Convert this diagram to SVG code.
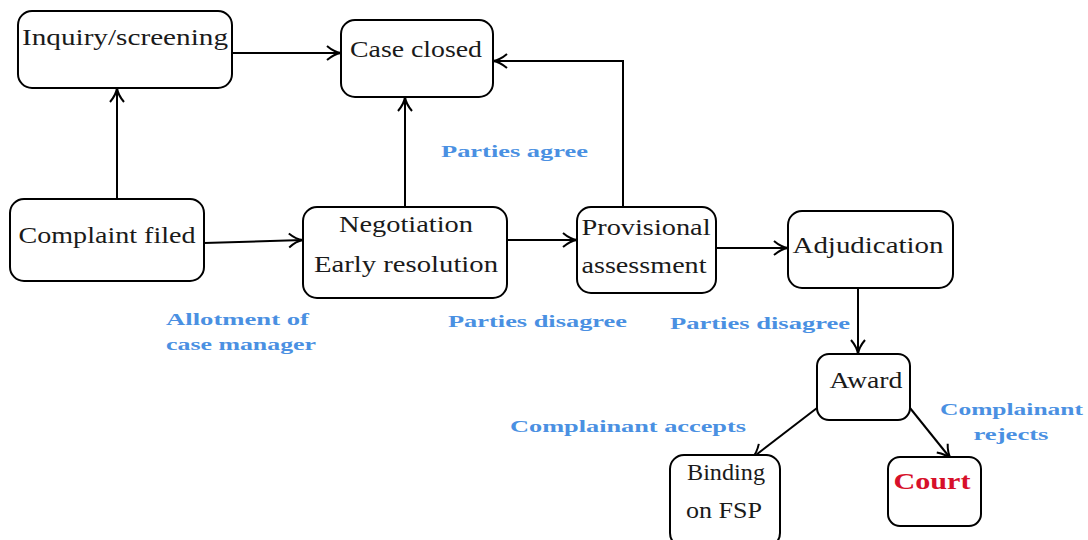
<svg xmlns="http://www.w3.org/2000/svg" width="1088" height="540" viewBox="0 0 1088 540">
<style>
.box{fill:#fff;stroke:#000;stroke-width:2}
text{font-family:"Liberation Serif","Times New Roman","Noto Serif","DejaVu Serif",serif}
.t{font-size:23px;fill:#1a1a1a}
.lbl{font-weight:bold;font-size:16px;fill:#4a90e2}
.c{fill:none;stroke:#000;stroke-width:2}
</style>
<defs>
<marker id="ah" markerUnits="userSpaceOnUse" markerWidth="20" markerHeight="20" refX="16" refY="10" orient="auto" viewBox="0 0 20 20">
<path d="M2,3 Q9,9 16,10 Q9,11 2,17" fill="none" stroke="#000" stroke-width="2"/>
</marker>
</defs>
<g id="connectors">
<path class="c" marker-end="url(#ah)" d="M232,53 L341,53"/>
<path class="c" marker-end="url(#ah)" d="M117,199 L117,88"/>
<path class="c" marker-end="url(#ah)" d="M405,207 L405,97"/>
<path class="c" marker-end="url(#ah)" d="M623,207 L623,61 L493,61"/>
<path class="c" marker-end="url(#ah)" d="M204,243 L303,240"/>
<path class="c" marker-end="url(#ah)" d="M507,240 L577,240"/>
<path class="c" marker-end="url(#ah)" d="M716,248 L788,248"/>
<path class="c" marker-end="url(#ah)" d="M858,288 L858,354"/>
<path class="c" marker-end="url(#ah)" d="M817,408 L752,458"/>
<path class="c" marker-end="url(#ah)" d="M910,408 L951,459"/>
</g>
<g id="inquiry"><rect class="box" x="18" y="11" width="214" height="77" rx="14"/><text class="t" x="125" y="45" text-anchor="middle" textLength="206" lengthAdjust="spacingAndGlyphs">Inquiry/screening</text></g>
<g id="closed"><rect class="box" x="341" y="20" width="152" height="77" rx="14"/><text class="t" x="416" y="57" text-anchor="middle" textLength="132" lengthAdjust="spacingAndGlyphs">Case closed</text></g>
<g id="complaint"><rect class="box" x="10" y="199" width="194" height="82" rx="14"/><text class="t" x="107" y="243" text-anchor="middle" textLength="177" lengthAdjust="spacingAndGlyphs">Complaint filed</text></g>
<g id="negotiation"><rect class="box" x="303" y="207" width="204" height="91" rx="14"/><text class="t" x="406" y="232" text-anchor="middle" textLength="134" lengthAdjust="spacingAndGlyphs">Negotiation</text><text class="t" x="406" y="272" text-anchor="middle" textLength="184" lengthAdjust="spacingAndGlyphs">Early resolution</text></g>
<g id="provisional"><rect class="box" x="577" y="207" width="139" height="86" rx="14"/><text class="t" x="646" y="235" text-anchor="middle" textLength="129" lengthAdjust="spacingAndGlyphs">Provisional</text><text class="t" x="644" y="273" text-anchor="middle" textLength="125" lengthAdjust="spacingAndGlyphs">assessment</text></g>
<g id="adjudication"><rect class="box" x="788" y="211" width="165" height="77" rx="14"/><text class="t" x="868" y="253" text-anchor="middle" textLength="151" lengthAdjust="spacingAndGlyphs">Adjudication</text></g>
<g id="award"><rect class="box" x="817" y="354" width="93" height="66" rx="12"/><text class="t" x="866" y="388" text-anchor="middle" textLength="73" lengthAdjust="spacingAndGlyphs">Award</text></g>
<g id="binding"><rect class="box" x="670" y="455" width="110" height="92" rx="14"/><text class="t" x="726" y="480" text-anchor="middle" textLength="78" lengthAdjust="spacingAndGlyphs">Binding</text><text class="t" x="724" y="518" text-anchor="middle" textLength="76" lengthAdjust="spacingAndGlyphs">on FSP</text></g>
<g id="court"><rect class="box" x="888" y="457" width="93" height="69" rx="12"/><text class="t" x="932" y="489" text-anchor="middle" font-weight="bold" style="fill:#d7102a" textLength="77" lengthAdjust="spacingAndGlyphs">Court</text></g>
<g id="labels">
<text class="lbl" x="441" y="157" textLength="147" lengthAdjust="spacingAndGlyphs">Parties agree</text>
<text class="lbl" x="166" y="325" textLength="143" lengthAdjust="spacingAndGlyphs">Allotment of</text>
<text class="lbl" x="166" y="350" textLength="150" lengthAdjust="spacingAndGlyphs">case manager</text>
<text class="lbl" x="448" y="327" textLength="179" lengthAdjust="spacingAndGlyphs">Parties disagree</text>
<text class="lbl" x="670" y="329" textLength="180" lengthAdjust="spacingAndGlyphs">Parties disagree</text>
<text class="lbl" x="510" y="432" textLength="236" lengthAdjust="spacingAndGlyphs">Complainant accepts</text>
<text class="lbl" x="940" y="415" textLength="143" lengthAdjust="spacingAndGlyphs">Complainant</text>
<text class="lbl" x="1011" y="440" text-anchor="middle" textLength="75" lengthAdjust="spacingAndGlyphs">rejects</text>
</g>
</svg>
